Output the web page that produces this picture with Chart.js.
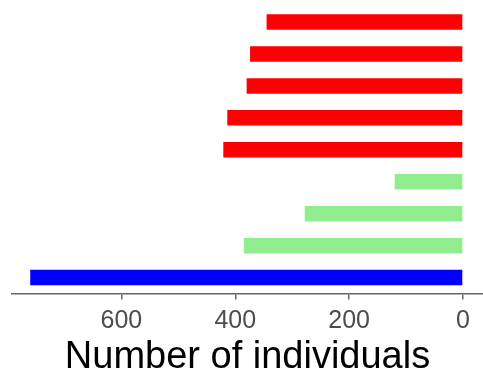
<!DOCTYPE html>
<html>
<head>
    <title>Number of individuals</title>
    <script src="https://cdn.jsdelivr.net/npm/chart.js"></script>
    <style>
        html, body { margin: 0; padding: 0; background: #fff; }
        .chart-container { width: 483px; height: 375px; }
    </style>
</head>
<body>
    <div class="chart-container">
        <canvas id="barChart"></canvas>
    </div>

    <script>
        // bars from top to bottom
        const categories = ['R1', 'R2', 'R3', 'R4', 'R5', 'G1', 'G2', 'G3', 'B1'];
        const counts = [345, 374, 380, 414, 421, 120, 278, 385, 760];
        const groups = ['red', 'red', 'red', 'red', 'red', 'green', 'green', 'green', 'blue'];
        const tickValues = [0, 200, 400, 600];

        const groupColors = { red: '#ff0000', green: '#90ee90', blue: '#0000ff' };

        const ctx = document.getElementById('barChart').getContext('2d');
        new Chart(ctx, {
            type: 'bar',
            data: {
                labels: categories,
                datasets: [{
                    data: counts,
                    backgroundColor: groups.map(g => groupColors[g]),
                    borderWidth: 0,
                    barPercentage: 0.5,
                    categoryPercentage: 0.97
                }]
            },
            options: {
                indexAxis: 'y',
                responsive: true,
                maintainAspectRatio: false,
                animation: false,
                layout: { padding: { top: 6, left: 12, right: 0, bottom: 0 } },
                plugins: {
                    legend: { display: false },
                    tooltip: { enabled: false }
                },
                scales: {
                    y: { display: false },
                    x: {
                        reverse: true,
                        min: -35,
                        max: 792,
                        afterBuildTicks: axis => {
                            axis.ticks = tickValues.map(v => ({ value: v }));
                        },
                        border: { display: true, color: '#666', width: 1.5 },
                        grid: {
                            drawOnChartArea: false,
                            drawTicks: true,
                            tickLength: 6,
                            color: '#666',
                            lineWidth: 1.5
                        },
                        ticks: {
                            color: '#4d4d4d',
                            padding: 9,
                            maxRotation: 0,
                            font: { family: 'Liberation Sans, Arial', size: 25, lineHeight: 1 }
                        },
                        title: {
                            display: true,
                            text: 'Number of individuals',
                            color: '#000',
                            padding: { top: 0, bottom: 2 },
                            font: { family: 'Liberation Sans, Arial', size: 38, lineHeight: 0.8 }
                        }
                    }
                }
            }
        });
    </script>
</body>
</html>
